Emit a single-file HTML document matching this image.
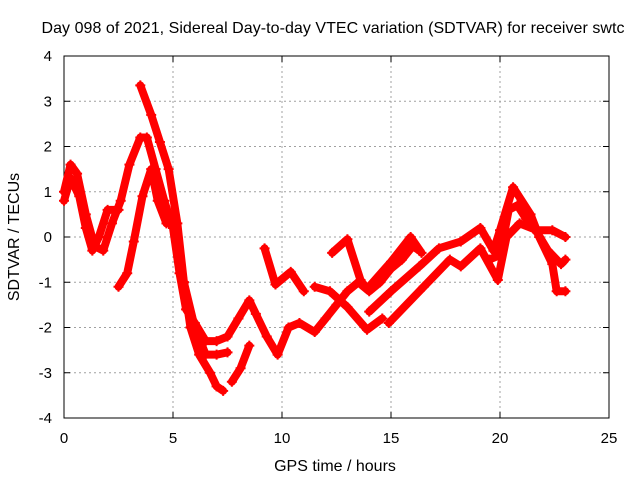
<!DOCTYPE html>
<html><head><meta charset="utf-8"><style>
body{margin:0;background:#fff}
svg{font-family:"Liberation Sans",sans-serif;font-size:15px}
</style></head><body>
<svg id="c" width="640" height="480">
<text x="333" y="33" text-anchor="middle" font-size="16" textLength="583">Day 098 of 2021, Sidereal Day-to-day VTEC variation (SDTVAR) for receiver swtc</text>
<text x="335" y="471" text-anchor="middle" font-size="16">GPS time / hours</text>
<text transform="translate(19,237) rotate(-90)" text-anchor="middle" font-size="16">SDTVAR / TECUs</text>
<g id="grid"></g><g id="axes"></g><g id="marks"></g>
</svg>
<script>
const xTicks=[0,5,10,15,20,25];
const yTicks=[-4,-3,-2,-1,0,1,2,3,4];
const s1t=[0,0.3,0.6,1.0,1.4,1.8,2.2,2.6,3.0,3.5,3.8,4.2,4.6,5.0,5.3,5.6,6.0,6.5,7.0,7.5,8.0,8.5,8.8,9.3,9.8,10.3,10.8,11.5,12,12.5,13,13.5,14,14.5,15,15.5,16,16.3];
const s1v=[1.0,1.6,1.4,0.5,-0.2,-0.3,0.3,0.8,1.6,2.2,2.2,1.5,0.8,0.2,-0.8,-1.6,-1.9,-2.3,-2.3,-2.2,-1.8,-1.4,-1.7,-2.2,-2.6,-2.0,-1.9,-2.1,-1.8,-1.5,-1.2,-1.0,-1.2,-1.0,-0.7,-0.5,-0.2,-0.3];
const s2t=[0,0.3,0.7,1.0,1.3,1.6,2.0,2.5];
const s2v=[0.8,1.3,0.9,0.2,-0.3,0.0,0.6,0.6];
const s3t=[2.5,2.9,3.2,3.6,4.0,4.3,4.7,5.0,5.5,6.0,6.5,7.0,7.5];
const s3v=[-1.1,-0.8,-0.1,0.9,1.5,0.8,0.3,0.4,-1.0,-2.0,-2.6,-2.6,-2.55];
const s4t=[3.5,4.0,4.4,4.8,5.2,5.5,5.8,6.2,6.7,7.0,7.3];
const s4v=[3.35,2.7,2.1,1.5,0.3,-1.0,-2.0,-2.6,-3.0,-3.3,-3.4];
const s5t=[7.7,8.1,8.5];
const s5v=[-3.2,-2.9,-2.4];
const s6t=[9.2,9.7,10.4,11.0];
const s6v=[-0.25,-1.05,-0.77,-1.2];
const s7t=[12.3,13.0,13.6,13.9,15.0,15.9,16.4];
const s7v=[-0.35,-0.05,-0.95,-1.15,-0.55,0.0,-0.35];
const s8t=[11.5,12.2,13.0,13.9,14.6];
const s8v=[-1.1,-1.2,-1.55,-2.05,-1.8];
const s9t=[14.0,15.0,16.3,17.2,18.2,19.1,19.7,20.0,20.6,21.4,21.8,22.4,22.6,23.0];
const s9v=[-1.65,-1.2,-0.65,-0.25,-0.1,0.2,-0.3,0.15,1.1,0.5,0.0,-0.6,-1.2,-1.2];
const s10t=[14.9,16.5,17.7,18.2,19.1,19.9,20.3,20.9,21.7,22.4,23.0];
const s10v=[-1.9,-1.1,-0.5,-0.65,-0.25,-0.95,0.0,0.3,0.15,0.15,0.0];
const s11t=[19.5,20.0,20.4,20.8,21.2,21.7,22.2,22.8,23.0];
const s11v=[-0.5,-0.4,0.6,0.7,0.4,0.1,-0.3,-0.6,-0.5];
const seriesT=[s1t,s2t,s3t,s4t,s5t,s6t,s7t,s8t,s9t,s10t,s11t];
const seriesV=[s1v,s2v,s3v,s4v,s5v,s6v,s7v,s8v,s9v,s10v,s11v];
const X0=64,X1=609,Y0=418,Y1=56;
const xs=t=>X0+(t-0)/(25-0)*(X1-X0);
const ys=v=>Y0-(v+4)/8*(Y0-Y1);
const NS="http://www.w3.org/2000/svg";
function mk(tag,attrs,parent){const e=document.createElementNS(NS,tag);for(const k in attrs)e.setAttribute(k,attrs[k]);parent.appendChild(e);return e;}
const grid=document.getElementById('grid'),axes=document.getElementById('axes'),marks=document.getElementById('marks');
xTicks.forEach(t=>{const x=xs(t);
 if(t>0&&t<25){const g=mk('line',{x1:x,x2:x,y1:Y0,y2:Y1,stroke:'#a0a0a0','stroke-dasharray':'2,3'},grid);
 
 }
 mk('line',{x1:x,x2:x,y1:Y0,y2:Y0-6,stroke:'#000'},axes);mk('line',{x1:x,x2:x,y1:Y1,y2:Y1+6,stroke:'#000'},axes);
 const l=mk('text',{x:x,y:Y0+25,'text-anchor':'middle'},axes);l.textContent=t;
 
 });
yTicks.forEach(v=>{const y=ys(v);
 if(v>-4&&v<4){const g=mk('line',{x1:X0,x2:X1,y1:y,y2:y,stroke:'#a0a0a0','stroke-dasharray':'2,3'},grid);
 
 }
 mk('line',{x1:X0,x2:X0+6,y1:y,y2:y,stroke:'#000'},axes);mk('line',{x1:X1,x2:X1-6,y1:y,y2:y,stroke:'#000'},axes);
 const l=mk('text',{x:X0-12,y:y+5,'text-anchor':'end'},axes);l.textContent=v;
 
 });
const fr=mk('rect',{x:X0,y:Y1,width:X1-X0,height:Y0-Y1,fill:'none',stroke:'#000'},axes);


seriesT.forEach((T,i)=>{const V=seriesV[i];
 const pts=T.map((t,j)=>xs(t)+','+ys(V[j])).join(' ');
 const pl=mk('polyline',{points:pts,fill:'none',stroke:'#f00','stroke-width':8,'stroke-linejoin':'round','stroke-linecap':'round'},marks);
 
 
 T.forEach((t,j)=>{const x=xs(t),y=ys(V[j]);
  const p=mk('path',{d:`M${x-5},${y}h10M${x},${y-5}v10`,stroke:'#f00','stroke-width':2},marks);
  
  });});
</script>
</body></html>
